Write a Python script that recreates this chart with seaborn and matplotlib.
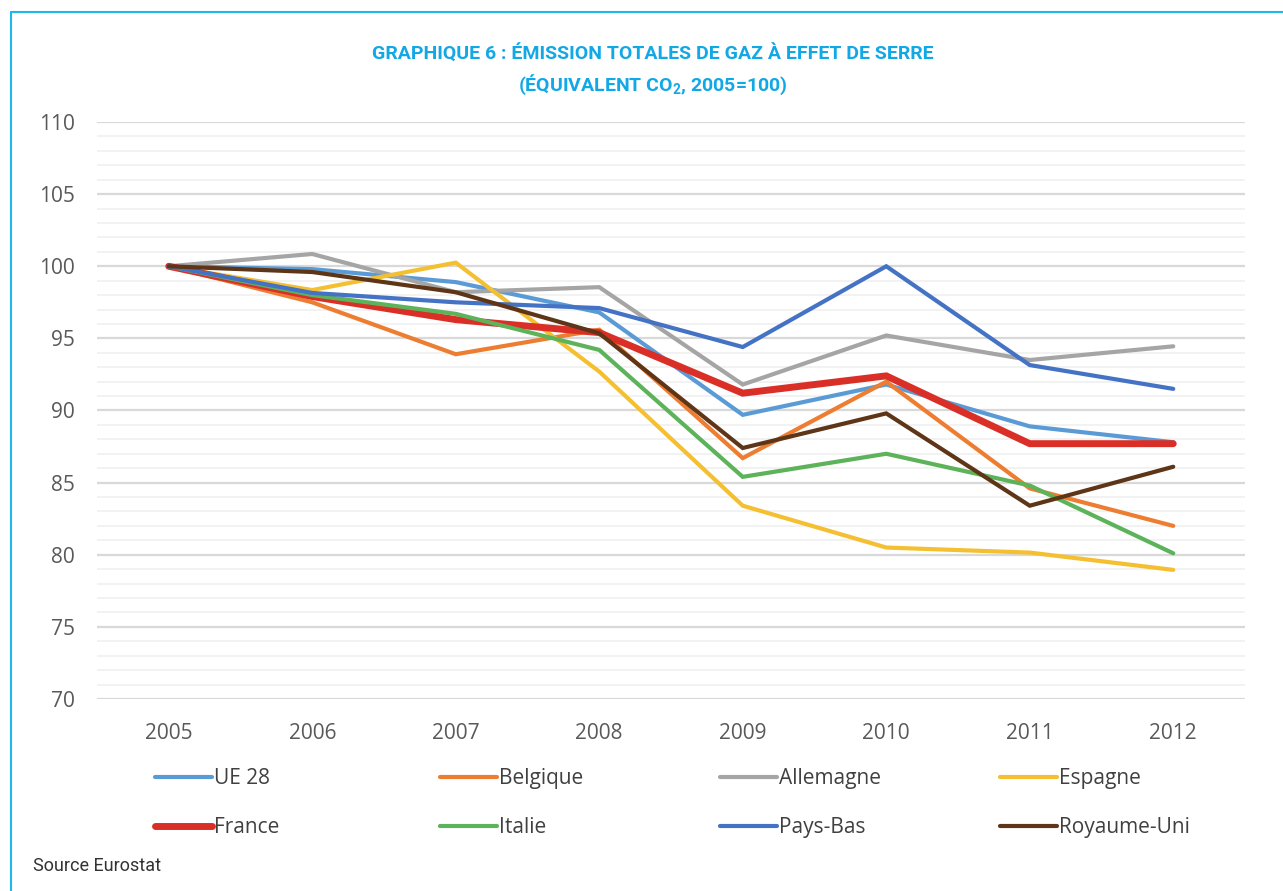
import numpy as np
import pandas as pd
import seaborn as sns
import matplotlib
matplotlib.use("Agg")
from matplotlib import pyplot as plt
from matplotlib.lines import Line2D

years = [2005, 2006, 2007, 2008, 2009, 2010, 2011, 2012]

ue28 = [100, 99.8, 98.9, 96.8, 89.7, 91.8, 88.9, 87.8]
belgique = [100, 97.5, 93.9, 95.6, 86.7, 92.0, 84.6, 82.0]
allemagne = [100, 100.85, 98.2, 98.55, 91.8, 95.2, 93.5, 94.45]
espagne = [100, 98.35, 100.25, 92.7, 83.4, 80.5, 80.15, 78.95]
france = [100, 97.9, 96.3, 95.4, 91.2, 92.4, 87.7, 87.7]
italie = [100, 98.0, 96.7, 94.2, 85.4, 87.0, 84.8, 80.1]
pays_bas = [100, 98.15, 97.5, 97.1, 94.4, 100.0, 93.15, 91.5]
royaume_uni = [100, 99.6, 98.2, 95.35, 87.4, 89.8, 83.4, 86.1]

series = ["UE 28", "Belgique", "Allemagne", "Espagne",
          "France", "Italie", "Pays-Bas", "Royaume-Uni"]
values = [ue28, belgique, allemagne, espagne, france, italie, pays_bas, royaume_uni]
colors = ["#5B9BD5", "#ED7D31", "#A5A5A5", "#F4C032",
          "#DA2F27", "#5DB35A", "#4472C4", "#5E3517"]
widths = [3, 3, 3, 3, 5, 3, 3, 3]

df = pd.DataFrame({
    "year": years * len(series),
    "value": sum(values, []),
    "pays": np.repeat(series, len(years)),
})

sns.set_style("white")
plt.rcParams["font.family"] = ["Open Sans", "DejaVu Sans"]
plt.rcParams["mathtext.fontset"] = "custom"
plt.rcParams["mathtext.rm"] = "Roboto:bold"
plt.rcParams["mathtext.it"] = "Roboto:bold"
plt.rcParams["mathtext.bf"] = "Roboto:bold"

fig = plt.figure(figsize=(12.83, 8.91), dpi=100)
ax = fig.add_axes([97 / 1283, 1 - 699 / 891, 1148 / 1283, 577 / 891])

for name, col, lw in zip(series, colors, widths):
    sns.lineplot(data=df[df["pays"] == name], x="year", y="value", color=col,
                 linewidth=lw, ax=ax, legend=False, solid_joinstyle="miter")

ax.set_xlim(2004.5, 2012.5)
ax.set_ylim(70, 110)
ax.set_yticks(range(70, 111, 5))
ax.set_yticks(range(70, 111, 1), minor=True)
ax.set_xticks(years)
ax.grid(axis="y", which="major", color="#D9D9D9", linewidth=1.6)
ax.grid(axis="y", which="minor", color="#F0F0F0", linewidth=1.2)
ax.set_axisbelow(True)
for s in ax.spines.values():
    s.set_visible(False)
ax.tick_params(axis="both", which="both", length=0, labelsize=15, colors="#595959")
ax.tick_params(axis="y", pad=16)
ax.tick_params(axis="x", pad=17)
ax.set_xlabel("")
ax.set_ylabel("")

# legend: four columns of two rows, placed one by one
handles = [Line2D([], [], color=c, linewidth=w) for c, w in zip(colors, widths)]
col_x = [155, 440, 720, 1000]
for i, x in enumerate(col_x):
    leg = fig.legend([handles[i], handles[i + 4]], [series[i], series[i + 4]],
                     loc="upper left", bbox_to_anchor=(x / 1283, 1 - 768 / 891),
                     frameon=False, fontsize=15, handlelength=2.75,
                     handletextpad=0.1, labelspacing=1.35, borderpad=0,
                     borderaxespad=0, labelcolor="#404040")

title_font = dict(family=["Roboto", "DejaVu Sans"], fontweight="bold",
                  color="#12A8E6", fontsize=14)
fig.text(653 / 1283, 1 - 54 / 891, "GRAPHIQUE 6 : ÉMISSION TOTALES DE GAZ À EFFET DE SERRE",
         ha="center", va="center", **title_font)
fig.text(653 / 1283, 1 - 85 / 891, "(ÉQUIVALENT CO$_2$, 2005=100)",
         ha="center", va="center", **title_font)
fig.text(33 / 1283, 1 - 866 / 891, "Source Eurostat", ha="left", va="center",
         color="#333333", fontsize=13, family=["Roboto", "DejaVu Sans"])

# cyan frame (top and left only)
fig.add_artist(Line2D([11 / 1283, 11 / 1283], [0, 1 - 12 / 891],
                      transform=fig.transFigure, color="#1EB8F0", linewidth=1.5))
fig.add_artist(Line2D([11 / 1283, 1], [1 - 12 / 891, 1 - 12 / 891],
                      transform=fig.transFigure, color="#1EB8F0", linewidth=1.5))

fig.savefig("out.png", dpi=100, facecolor="white")
